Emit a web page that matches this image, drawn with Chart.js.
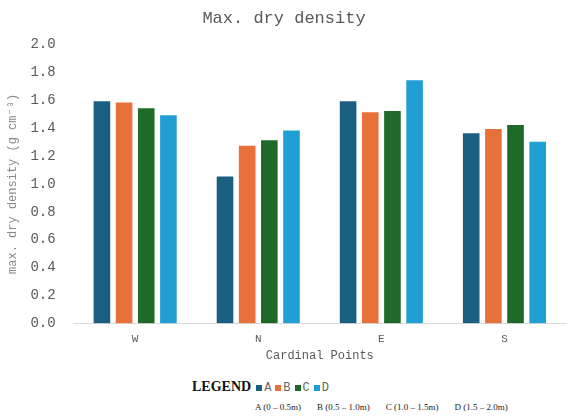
<!DOCTYPE html>
<html>
<head>
<meta charset="utf-8">
<script src="https://cdn.jsdelivr.net/npm/chart.js@4"></script>
<style>
  body { margin: 0; background: #fff; width: 572px; height: 418px; overflow: hidden; }
  #wrap { position: relative; width: 572px; height: 365px; }
  #legend { position: absolute; left: 0; top: 377px; width: 572px; }
  .row1 { position: absolute; left: 192px; top: 0; white-space: nowrap; }
  .lg { font-family: "Liberation Serif", serif; font-weight: bold; font-size: 14px; color: #111; margin-right: 5px; }
  .it { font-family: "Liberation Mono", monospace; font-size: 12px; color: #666; margin-right: 4px; }
  .sq { display: inline-block; width: 6px; height: 6px; margin-right: 2px; }
  .row2 { position: absolute; left: 255px; top: 25px; white-space: nowrap; font-family: "Liberation Serif", serif; font-size: 9px; color: #222; }
  .row2 span { margin-right: 16px; }
</style>
</head>
<body>
<div id="wrap"><canvas id="chart" width="572" height="365"></canvas></div>
<div id="legend"><div class="row1" id="row1"></div><div class="row2" id="row2"></div></div>
<script>
var categories = ["W", "N", "E", "S"];
var seriesNames = ["A", "B", "C", "D"];
var depthLabels = ["A (0 – 0.5m)", "B (0.5 – 1.0m)", "C (1.0 – 1.5m)", "D (1.5 – 2.0m)"];
var valuesA = [1.60, 1.06, 1.60, 1.37];
var valuesB = [1.59, 1.28, 1.52, 1.40];
var valuesC = [1.55, 1.32, 1.53, 1.43];
var valuesD = [1.50, 1.39, 1.75, 1.31];
var colors = ["#1b5f80", "#e8703a", "#1f6a29", "#209fd5"];

var allValues = [valuesA, valuesB, valuesC, valuesD];
var mono = "'Liberation Mono', monospace";

var datasets = seriesNames.map(function (name, i) {
    return {
        label: name,
        data: allValues[i],
        backgroundColor: colors[i],
        borderColor: "rgba(255,255,255,0.6)",
        borderWidth: 1,
        borderSkipped: "bottom",
        categoryPercentage: 0.72,
        barPercentage: 0.84
    };
});

var ctx = document.getElementById("chart");
var myChart = new Chart(ctx, {
    type: 'bar',
    data: { labels: categories, datasets: datasets },
    options: {
        responsive: false,
        animation: false,
        layout: { padding: { top: 0, right: 6, left: 2, bottom: 0 } },
        plugins: {
            legend: { display: false },
            tooltip: { enabled: false },
            title: {
                display: true,
                text: "Max. dry density",
                color: "#595959",
                font: { family: mono, size: 17, weight: "normal" },
                padding: { top: 8, bottom: 16 }
            }
        },
        scales: {
            y: {
                min: 0,
                max: 2.0,
                ticks: {
                    stepSize: 0.2,
                    color: "#595959",
                    font: { family: mono, size: 14 },
                    padding: 10,
                    callback: function (v) { return v.toFixed(1); }
                },
                grid: { display: false },
                border: { display: false },
                title: {
                    display: true,
                    text: "max. dry density (g cm⁻³)",
                    color: "#8a8a8a",
                    font: { family: mono, size: 12 },
                    padding: { bottom: 0 }
                }
            },
            x: {
                ticks: { color: "#595959", font: { family: mono, size: 11 }, padding: 1 },
                grid: { display: false },
                border: { display: true, color: "#d9d9d9" },
                title: {
                    display: true,
                    text: "Cardinal Points",
                    color: "#595959",
                    font: { family: mono, size: 12 },
                    padding: { top: 2, bottom: 2 }
                }
            }
        }
    }
});

var row1 = document.getElementById("row1");
var html = '<span class="lg">LEGEND</span>';
seriesNames.forEach(function (n, i) {
    html += '<span class="sq" style="background:' + colors[i] + '"></span><span class="it">' + n + '</span>';
});
row1.innerHTML = html;
document.getElementById("row2").innerHTML = depthLabels.map(function (t) { return '<span>' + t + '</span>'; }).join("");
</script>
</body>
</html>
